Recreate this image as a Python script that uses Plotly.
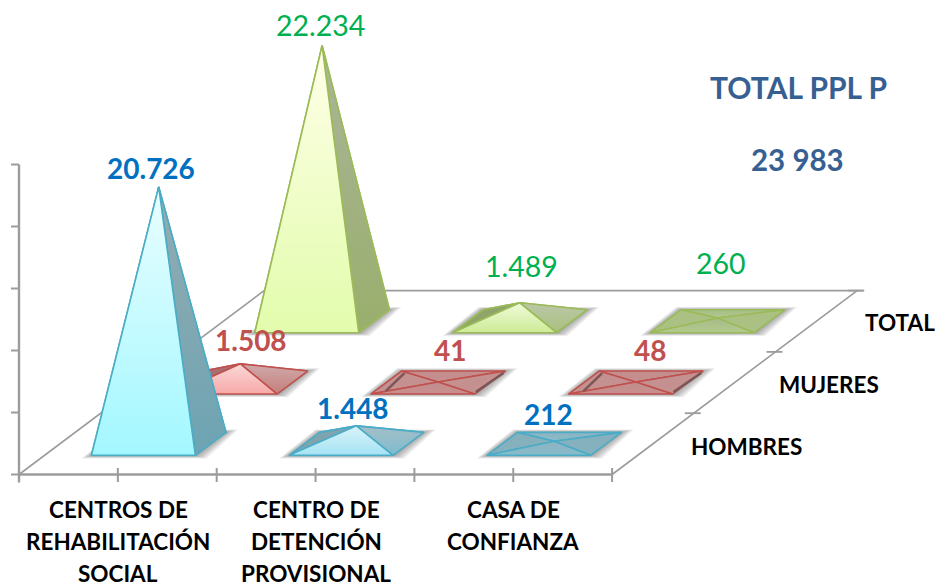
import plotly.graph_objects as go

# ---------- data ----------
categories = [["CENTROS DE", "REHABILITACIÓN", "SOCIAL"],
              ["CENTRO DE", "DETENCIÓN", "PROVISIONAL"],
              ["CASA DE", "CONFIANZA"]]
series_names = ["HOMBRES", "MUJERES", "TOTAL"]
hombres = [20726, 1448, 212]
mujeres = [1508, 41, 48]
total = [22234, 1489, 260]
hombres_text = ["20.726", "1.448", "212"]
mujeres_text = ["1.508", "41", "48"]
total_text = ["22.234", "1.489", "260"]
value_ticks = [0, 5000, 10000, 15000, 20000, 25000]
title_lines = ["TOTAL PPL P", "23 983"]

# ---------- oblique chart geometry ----------
W, H = 938, 587
X0, Y0 = 19, 474.5          # pixel position of the origin corner
CAT_PX = 197.7              # px per category
VAL_PX = 0.0124             # px per unit of value
DEPTH_DX = 81.7 / CAT_PX    # shear of one series row, in category units
DEPTH_DY = 61.3 / VAL_PX    # rise of one series row, in value units
BASE_W = 0.263              # half width of a base (category units)
BASE_D = 0.1875             # half depth of a base (series rows)
HX, HY = 1 / CAT_PX, 1 / VAL_PX  # one pixel in axis units


def proj(cat, row, val=0.0):
    return cat + row * DEPTH_DX, val + row * DEPTH_DY


STYLES = {
    0: dict(line="#4BACC6",
            front=("#E9FEFF", "#A3F7FF"), right=("#94ACB0", "#6DA4B3"),
            sfront=("#D9F3F9", "#A5E3F4"), sright=("#A4BFC8", "#7FBBCD"), sleft="#7FA4B0",
            flat=("#8FB3BF", "#86BCCB"), flatside="#85B0BE", band=None),
    1: dict(line="#C0504D",
            front=("#FFE0E0", "#F7A6A4"), right=("#C9A8A8", "#C47674"),
            sfront=("#FAD8D8", "#F6A9A7"), sright=("#CFAAAA", "#C57E7C"), sleft="#A87070",
            flat=("#C08E8E", "#C98E8D"), flatside="#C49090", band="#7E5555"),
    2: dict(line="#9BBB59",
            front=("#FFFFE8", "#E2FCAC"), right=("#ABB49A", "#99AF6C"),
            sfront=("#F0FADB", "#CDEB96"), sright=("#BCC8A8", "#A9C07E"), sleft="#8FA46A",
            flat=("#A6BA8A", "#B3CA8B"), flatside="#ABC184", band=None),
}

fig = go.Figure()


def line(xs, ys, color="#9C9C9C", width=2):
    fig.add_trace(go.Scatter(x=xs, y=ys, mode="lines", hoverinfo="skip",
                             line=dict(color=color, width=width)))


def face(pts, colors, edge):
    xs = [p[0] for p in pts] + [pts[0][0]]
    ys = [p[1] for p in pts] + [pts[0][1]]
    kw = dict(fillcolor=colors) if isinstance(colors, str) else dict(
        fillgradient=dict(type="vertical",
                          colorscale=[[0, colors[1]], [1, colors[0]]]))
    fig.add_trace(go.Scatter(x=xs, y=ys, mode="lines", fill="toself", hoverinfo="skip",
                             line=dict(color=edge, width=1.6), **kw))


def shadow(cat, row):
    fl = proj(cat - BASE_W, row - BASE_D)
    fr = proj(cat + BASE_W, row - BASE_D)
    br = proj(cat + BASE_W, row + BASE_D)
    bl = proj(cat - BASE_W, row + BASE_D)
    for grow in (11, 9, 7, 5, 3, 1.5):
        sx, sy = grow * HX, grow * 0.28 * HY
        px = [fl[0] - sx * 0.9, fr[0] + sx, br[0] + sx * 1.1, bl[0] - sx * 0.4]
        py = [fl[1] - sy, fr[1] - sy, br[1] + sy * 0.9, bl[1] + sy * 0.9]
        fig.add_trace(go.Scatter(x=px + px[:1], y=py + py[:1], mode="lines", fill="toself",
                                 fillcolor="rgba(50,50,50,0.09)", hoverinfo="skip",
                                 line=dict(width=0)))


def pyramid(cat, row, val):
    st = STYLES[row]
    r = row + 0.5
    fl = proj(cat - BASE_W, r - BASE_D)
    fr = proj(cat + BASE_W, r - BASE_D)
    br = proj(cat + BASE_W, r + BASE_D)
    bl = proj(cat - BASE_W, r + BASE_D)
    ap = proj(cat, r, val)
    if val > 5000:
        f, s, left, back = st["front"], st["right"], st["right"][0], st["right"]
    elif val > 500:
        f, s, left, back = st["sfront"], st["sright"], st["sleft"], st["sright"]
    else:
        f, s, left, back = st["flat"], st["flatside"], st["flatside"], st["flat"]
    face([bl, br, ap], back, st["line"])
    face([fl, bl, ap], left, st["line"])
    face([fr, br, ap], s, st["line"])
    face([fl, fr, ap], f, st["line"])
    if val <= 500 and st["band"]:
        # darker rim along the two slanted sides of a nearly flat pyramid
        line([fl[0] + 15 * HX, bl[0] + 3 * HX], [fl[1] + 3 * HY, bl[1] - 2 * HY],
             color=st["band"], width=2.5)
        line([fr[0] + 1 * HX, br[0] - 2 * HX], [fr[1] + 2 * HY, br[1] - 2 * HY],
             color=st["band"], width=2.5)


# floor outline and axes
deep = proj(0, 3)
line([0, deep[0], proj(3, 3)[0] + 6 * HX], [0, deep[1], deep[1]], width=1.6)
line([3, proj(3, 3)[0]], [0, deep[1]], width=1.6)
line([0, 3], [0, 0], width=2.4)
line([0, 0], [value_ticks[0] - 8 * HY, value_ticks[-1]], width=2.4)
for v in value_ticks:
    line([-8 * HX, 0], [v, v], width=2)
for i in range(7):
    line([i / 2, i / 2], [6.5 * HY, -7.5 * HY], width=2)
for row in range(1, 4):
    p = proj(3, row)
    line([p[0] - 9 * HX, p[0] + 7 * HX], [p[1], p[1]], width=1.8)

# marks, back row first
rows = [hombres, mujeres, total]
for row in (2, 1, 0):
    for cat, val in enumerate(rows[row]):
        shadow(cat + 0.5, row + 0.5)
        pyramid(cat + 0.5, row, val)


# ---------- text ----------
FONT = "Lato"


def text(s, px, py, size, color, bold=True):
    fig.add_annotation(x=px / W, y=1 - py / H, xref="paper", yref="paper", text=f"<b>{s}</b>" if bold else s,
                       showarrow=False, xanchor="center", yanchor="middle",
                       font=dict(family=FONT, size=size, color=color))


BLUE, RED, GREEN, NAVY = "#0070C0", "#C0504D", "#00B050", "#376092"
for s, (px, py) in zip(hombres_text, [(151, 168), (353, 408), (548, 414)]):
    text(s, px, py, 28, BLUE)
for s, (px, py) in zip(mujeres_text, [(251, 340), (450, 350), (650, 350)]):
    text(s, px, py, 28, RED)
for s, (px, py) in zip(total_text, [(320, 25), (521, 266), (721, 263)]):
    text(s, px, py, 28.5, GREEN, bold=False)
text(title_lines[0], 798, 87, 30, NAVY)
text(title_lines[1], 797, 159, 29.5, NAVY)
for s, (px, py) in zip(series_names, [(746, 446), (829, 384), (900, 322)]):
    text(s, px, py, 22.5, "#000000")
for lines, cx in zip(categories, (118, 316, 513)):
    for ln, py in zip(lines, (509, 541, 573)):
        text(ln, cx, py, 22.5, "#000000")

fig.update_layout(
    width=W, height=H, margin=dict(l=0, r=0, t=0, b=0), showlegend=False,
    paper_bgcolor="white", plot_bgcolor="white",
    xaxis=dict(visible=False, range=[-X0 * HX, (W - X0) * HX], fixedrange=True),
    yaxis=dict(visible=False, range=[(Y0 - H) * HY, Y0 * HY], fixedrange=True),
)
fig.write_html("out.html", config=dict(displayModeBar=False),
               post_script="document.body.style.margin='0';document.documentElement.style.overflow='hidden';")
